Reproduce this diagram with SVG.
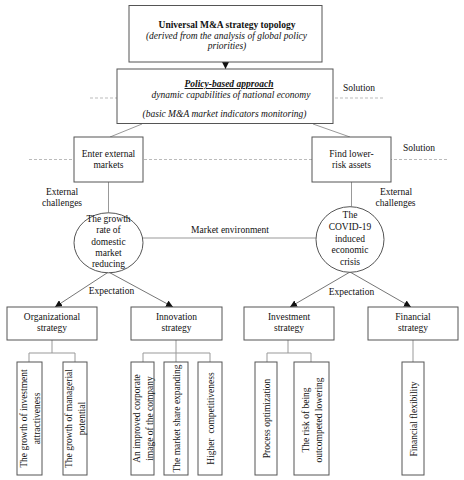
<svg xmlns="http://www.w3.org/2000/svg" width="464" height="480" viewBox="0 0 464 480">
<defs>
<marker id="ah" viewBox="0 0 10 10" refX="10" refY="5" markerWidth="7" markerHeight="7" markerUnits="userSpaceOnUse" orient="auto">
<path d="M0,0 L10,5 L0,10 z" fill="#111"/>
</marker>
<style>
text{font-family:"Liberation Serif","Times New Roman",serif;font-size:9.5px;fill:#111;}
.c{text-anchor:middle;}
.b{font-weight:bold;}
.i{font-style:italic;}
.box{fill:#fff;stroke:#555;stroke-width:1;}
.ln{stroke:#999;stroke-width:1;fill:none;}
.ar{stroke:#666;stroke-width:0.9;fill:none;marker-end:url(#ah);}
.dash{stroke:#aaa;stroke-width:0.8;stroke-dasharray:3,2;fill:none;}
</style>
</defs>
<rect width="464" height="480" fill="#fff"/>

<g id="guides">
<line class="dash" x1="90" y1="98" x2="117" y2="98"/>
<line class="dash" x1="335" y1="98" x2="384" y2="98"/>
<line class="dash" x1="29" y1="159.5" x2="447" y2="159.5"/>
<line class="dash" x1="130" y1="95.5" x2="134" y2="95.5"/>
</g>

<g id="connectors">
<line class="ar" x1="225.5" y1="62" x2="225.5" y2="69"/>
<line class="ln" x1="142" y1="124" x2="110" y2="137"/>
<line class="ln" x1="313" y1="124" x2="350" y2="137"/>
<line class="ln" x1="108.5" y1="182" x2="108.5" y2="213"/>
<line class="ln" x1="351.5" y1="182" x2="351.5" y2="206.5"/>
<line class="ln" x1="143" y1="238" x2="316" y2="238"/>
<line class="ar" x1="108.5" y1="272" x2="55" y2="307"/>
<line class="ar" x1="108.5" y1="272" x2="173" y2="307"/>
<line class="ar" x1="350" y1="272" x2="290" y2="307"/>
<line class="ar" x1="350" y1="272" x2="411" y2="307"/>
<path class="ln" d="M52,340 V353 M29,362 V353 H75 V362"/>
<path class="ln" d="M176,340 V362 M143,362 V353 H210 V362"/>
<path class="ln" d="M288,340 V353 M267,362 V353 H311 V362"/>
<path class="ln" d="M413,340 V362"/>
</g>

<g id="top">
<rect class="box" x="129" y="5.5" width="193" height="56.5"/>
<text class="c b" x="227" y="28">Universal M&amp;A strategy topology</text>
<text class="c i" x="226.5" y="38.5">(derived from the analysis of global policy</text>
<text class="c i" x="227" y="49">priorities)</text>
</g>

<g id="policy">
<rect class="box" x="117" y="69" width="216" height="54.5"/>
<text class="c b i" x="229" y="87" text-decoration="underline">Policy-based approach</text>
<text class="c i" x="231" y="98">dynamic capabilities of national economy</text>
<text class="c i" x="224.5" y="117">(basic M&amp;A market indicators monitoring)</text>
</g>

<g id="labels">
<text class="c" x="359" y="90.5">Solution</text>
<text class="c" x="419" y="150.5">Solution</text>
<text class="c" x="62" y="194.5">External</text>
<text class="c" x="62" y="206">challenges</text>
<text class="c" x="396" y="194.5">External</text>
<text class="c" x="395.5" y="206">challenges</text>
<text class="c" x="230" y="233">Market environment</text>
<text class="c" x="111.5" y="294">Expectation</text>
<text class="c" x="351.5" y="294.5">Expectation</text>
</g>

<g id="enter">
<rect class="box" x="74" y="137" width="69" height="45"/>
<text class="c" x="108.5" y="156.5">Enter external</text>
<text class="c" x="108.5" y="168">markets</text>
</g>

<g id="find">
<rect class="box" x="312" y="137" width="79" height="45"/>
<text class="c" x="351.5" y="156.5">Find lower-</text>
<text class="c" x="351.5" y="168">risk assets</text>
</g>

<g id="domestic">
<ellipse class="box" cx="108.5" cy="242.8" rx="34.5" ry="30"/>
<text class="c" x="108.5" y="221.5">The growth</text>
<text class="c" x="108.5" y="233">rate of</text>
<text class="c" x="108.5" y="244.5">domestic</text>
<text class="c" x="108.5" y="255.5">market</text>
<text class="c" x="108.5" y="266.5">reducing</text>
</g>

<g id="covid">
<ellipse class="box" cx="350" cy="239.5" rx="34" ry="32.8"/>
<text class="c" x="350" y="217.5">The</text>
<text class="c" x="350" y="229.5">COVID-19</text>
<text class="c" x="350" y="241.5">induced</text>
<text class="c" x="350" y="252.5">economic</text>
<text class="c" x="350" y="264.5">crisis</text>
</g>

<g id="organizational">
<rect class="box" x="7" y="307" width="90" height="33"/>
<text class="c" x="52" y="320">Organizational</text>
<text class="c" x="52" y="331">strategy</text>
</g>
<g id="innovation">
<rect class="box" x="131" y="307" width="91" height="33"/>
<text class="c" x="176.5" y="320">Innovation</text>
<text class="c" x="176.5" y="331">strategy</text>
</g>
<g id="investment">
<rect class="box" x="244" y="307" width="90" height="33"/>
<text class="c" x="289" y="320">Investment</text>
<text class="c" x="289" y="331">strategy</text>
</g>
<g id="financial">
<rect class="box" x="368" y="307" width="90" height="33"/>
<text class="c" x="413" y="320">Financial</text>
<text class="c" x="413" y="331">strategy</text>
</g>

<g id="leaf-attractiveness">
<rect class="box" x="17" y="362" width="25" height="113"/>
<text class="c" transform="translate(26.5,418.5) rotate(-90)">The growth of investment</text>
<text class="c" transform="translate(39.5,418.5) rotate(-90)">attractiveness</text>
</g>
<g id="leaf-managerial">
<rect class="box" x="63" y="362" width="24" height="113"/>
<text class="c" transform="translate(72,418.5) rotate(-90)">The growth of managerial</text>
<text class="c" transform="translate(85,418.5) rotate(-90)">potential</text>
</g>
<g id="leaf-image">
<rect class="box" x="131" y="362" width="23" height="113"/>
<text class="c" transform="translate(139.5,418.5) rotate(-90)">An improved corporate</text>
<text class="c" transform="translate(152.5,418.5) rotate(-90)">image of the company</text>
</g>
<g id="leaf-market-share">
<rect class="box" x="164" y="362" width="24" height="113"/>
<text class="c" transform="translate(179.5,418.5) rotate(-90)">The market share expanding</text>
</g>
<g id="leaf-competitiveness">
<rect class="box" x="198" y="362" width="24" height="113"/>
<text class="c" transform="translate(213.5,418.5) rotate(-90)" xml:space="preserve">Higher  competitiveness</text>
</g>
<g id="leaf-process">
<rect class="box" x="255" y="362" width="22" height="113"/>
<text class="c" transform="translate(269.5,418.5) rotate(-90)">Process optimization</text>
</g>
<g id="leaf-risk">
<rect class="box" x="294" y="362" width="35" height="113"/>
<text class="c" transform="translate(308.5,420) rotate(-90)">The risk of being</text>
<text class="c" transform="translate(321.5,420) rotate(-90)">outcompeted lowering</text>
</g>
<g id="leaf-flexibility">
<rect class="box" x="402" y="362" width="22" height="113"/>
<text class="c" transform="translate(416.5,419) rotate(-90)">Financial flexibility</text>
</g>
</svg>
